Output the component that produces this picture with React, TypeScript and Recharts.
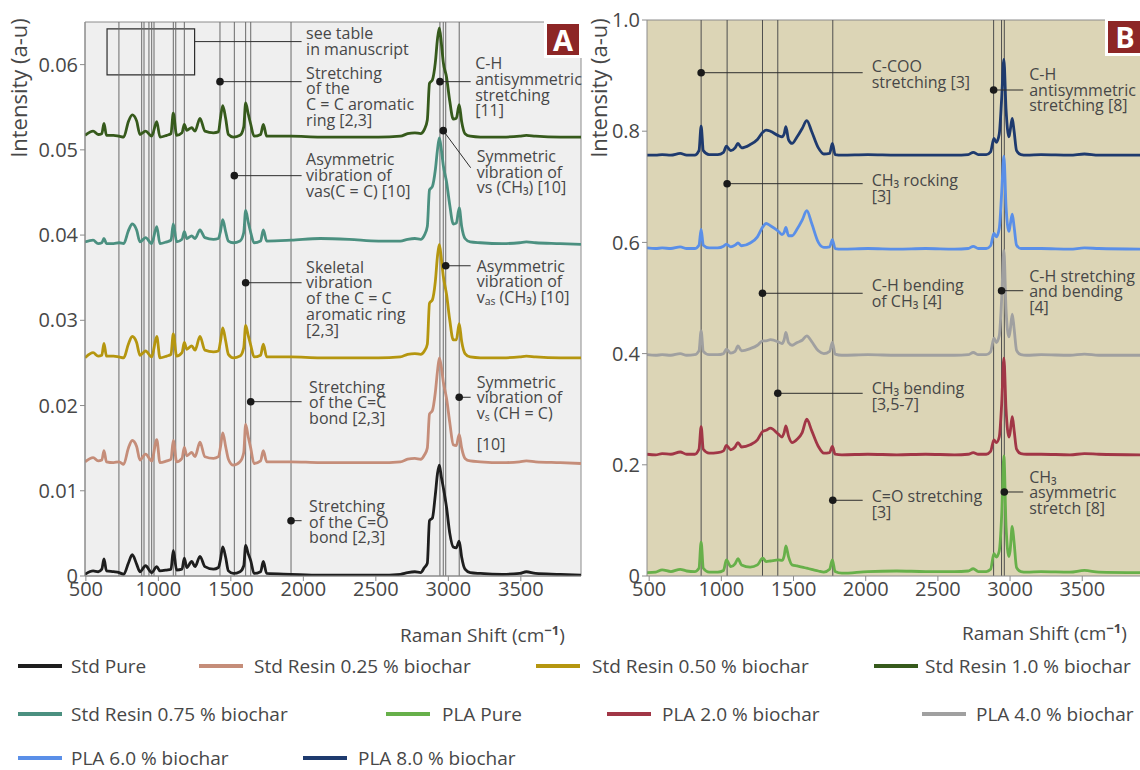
import React from 'react';
import {
  LineChart,
  Line,
  XAxis,
  YAxis,
  CartesianGrid,
  ReferenceLine,
  ReferenceDot,
  ReferenceArea,
} from 'recharts';

// ---------- Panel A: standard resin spectra (Raman shift, cm-1) ----------
const A_SHIFT = [
  494, 550, 585, 610, 625, 642, 691, 729, 761, 793, 820, 850, 873, 912, 954, 989, 1011, 1057, 1087, 1103,
  1126, 1163, 1179, 1196, 1230, 1253, 1287, 1321, 1380, 1414, 1429, 1444, 1464, 1483, 1517, 1563, 1589, 1602,
  1620, 1637, 1660, 1705, 1724, 1747, 1916, 2117, 2317, 2518, 2669, 2719, 2769, 2809, 2835, 2855, 2870, 2890,
  2910, 2925, 2938, 2952, 2965, 2988, 3010, 3034, 3055, 3075, 3092, 3115, 3151, 3221, 3372, 3492, 3538, 3602,
  3773, 3915,
];

const STD_PURE = [
  0.0002, 0.0006, 0.0005, 0.0008, 0.0020, 0.0006, 0.0005, 0.0004, 0.0002, 0.0015,
  0.0025, 0.0014, 0.0005, 0.0012, 0.0004, 0.0011, 0.0006, 0.0007, 0.0008, 0.0030,
  0.0007, 0.0008, 0.0021, 0.0010, 0.0017, 0.0011, 0.0023, 0.0011, 0.0008, 0.0010,
  0.0020, 0.0034, 0.0022, 0.0006, 0.0003, 0.0005, 0.0012, 0.0036, 0.0026, 0.0018,
  0.0003, 0.0005, 0.0017, 0.0003, 0.0002, 0.0001, 0.0001, 0.0001, 0.0002, 0.0004,
  0.0005, 0.0004, 0.0010, 0.0015, 0.0065, 0.0068, 0.0095, 0.0120, 0.0130, 0.0116,
  0.0104, 0.0080, 0.0050, 0.0034, 0.0033, 0.0041, 0.0022, 0.0008, 0.0004, 0.0003,
  0.0002, 0.0003, 0.0005, 0.0003, 0.0002, 0.0001,
];

const STD_RESIN_025 = [
  0.0134, 0.0139, 0.0135, 0.0136, 0.0147, 0.0134, 0.0133, 0.0134, 0.0131, 0.0150,
  0.0159, 0.0152, 0.0136, 0.0143, 0.0135, 0.0160, 0.0133, 0.0135, 0.0137, 0.0159,
  0.0134, 0.0138, 0.0151, 0.0141, 0.0145, 0.0140, 0.0157, 0.0140, 0.0138, 0.0140,
  0.0152, 0.0168, 0.0152, 0.0137, 0.0130, 0.0134, 0.0145, 0.0178, 0.0163, 0.0150,
  0.0132, 0.0135, 0.0147, 0.0134, 0.0134, 0.0133, 0.0133, 0.0133, 0.0134, 0.0137,
  0.0138, 0.0137, 0.0142, 0.0150, 0.0190, 0.0194, 0.0215, 0.0240, 0.0256, 0.0245,
  0.0228, 0.0208, 0.0180, 0.0154, 0.0153, 0.0166, 0.0150, 0.0138, 0.0135, 0.0134,
  0.0133, 0.0134, 0.0135, 0.0134, 0.0133, 0.0132,
];

const STD_RESIN_050 = [
  0.0256, 0.0262, 0.0258, 0.0259, 0.0273, 0.0258, 0.0258, 0.0257, 0.0256, 0.0272,
  0.0281, 0.0274, 0.0259, 0.0264, 0.0257, 0.0281, 0.0256, 0.0258, 0.0260, 0.0284,
  0.0258, 0.0262, 0.0274, 0.0266, 0.0270, 0.0265, 0.0281, 0.0265, 0.0263, 0.0264,
  0.0276, 0.0291, 0.0276, 0.0260, 0.0256, 0.0258, 0.0268, 0.0294, 0.0282, 0.0271,
  0.0257, 0.0259, 0.0272, 0.0257, 0.0257, 0.0256, 0.0256, 0.0256, 0.0257, 0.0260,
  0.0261, 0.0260, 0.0264, 0.0272, 0.0320, 0.0324, 0.0345, 0.0375, 0.0389, 0.0372,
  0.0352, 0.0330, 0.0300, 0.0277, 0.0277, 0.0296, 0.0275, 0.0261, 0.0257, 0.0256,
  0.0256, 0.0257, 0.0258, 0.0257, 0.0256, 0.0256,
];

const STD_RESIN_100 = [
  0.0517, 0.0522, 0.0518, 0.0519, 0.0531, 0.0517, 0.0517, 0.0516, 0.0515, 0.0533,
  0.0541, 0.0534, 0.0518, 0.0522, 0.0516, 0.0533, 0.0515, 0.0517, 0.0519, 0.0543,
  0.0517, 0.0520, 0.0530, 0.0523, 0.0526, 0.0522, 0.0537, 0.0522, 0.0520, 0.0521,
  0.0538, 0.0552, 0.0537, 0.0518, 0.0515, 0.0517, 0.0527, 0.0555, 0.0542, 0.0530,
  0.0516, 0.0518, 0.0530, 0.0516, 0.0516, 0.0515, 0.0515, 0.0515, 0.0516, 0.0519,
  0.0520, 0.0519, 0.0524, 0.0535, 0.0578, 0.0582, 0.0602, 0.0630, 0.0643, 0.0625,
  0.0603, 0.0585, 0.0557, 0.0536, 0.0537, 0.0553, 0.0533, 0.0519, 0.0516, 0.0515,
  0.0515, 0.0516, 0.0517, 0.0516, 0.0515, 0.0515,
];

const STD_RESIN_075 = [
  0.0392, 0.0394, 0.0390, 0.0391, 0.0396, 0.0390, 0.0390, 0.0391, 0.0390, 0.0405,
  0.0413, 0.0406, 0.0392, 0.0397, 0.0390, 0.0410, 0.0390, 0.0392, 0.0394, 0.0413,
  0.0392, 0.0395, 0.0404, 0.0396, 0.0399, 0.0396, 0.0406, 0.0397, 0.0395, 0.0396,
  0.0405, 0.0418, 0.0404, 0.0393, 0.0391, 0.0393, 0.0403, 0.0429, 0.0415, 0.0403,
  0.0391, 0.0393, 0.0406, 0.0393, 0.0394, 0.0396, 0.0395, 0.0393, 0.0393, 0.0395,
  0.0396, 0.0395, 0.0400, 0.0410, 0.0453, 0.0457, 0.0476, 0.0500, 0.0514, 0.0500,
  0.0482, 0.0462, 0.0435, 0.0413, 0.0414, 0.0432, 0.0410, 0.0396, 0.0392, 0.0391,
  0.0390, 0.0391, 0.0392, 0.0391, 0.0390, 0.0389,
];

// ---------- Panel B: PLA spectra ----------
const B_SHIFT = [
  485, 545, 590, 650, 715, 760, 815, 845, 860, 875, 915, 975, 1015, 1035, 1065, 1095, 1115, 1140, 1200, 1250,
  1287, 1310, 1340, 1395, 1420, 1435, 1447, 1465, 1490, 1525, 1560, 1592, 1625, 1672, 1710, 1750, 1769, 1788,
  1835, 2015, 2215, 2415, 2615, 2710, 2745, 2780, 2835, 2865, 2888, 2905, 2925, 2942, 2957, 2972, 2992, 3000,
  3015, 3028, 3045, 3075, 3115, 3215, 3415, 3515, 3615, 3900,
];

const PLA_PURE = [
  0.006, 0.007, 0.011, 0.008, 0.012, 0.009, 0.008, 0.014, 0.061, 0.014,
  0.007, 0.007, 0.010, 0.029, 0.017, 0.022, 0.031, 0.020, 0.016, 0.020,
  0.032, 0.026, 0.027, 0.029, 0.028, 0.036, 0.054, 0.035, 0.020, 0.018,
  0.016, 0.014, 0.012, 0.009, 0.007, 0.012, 0.029, 0.008, 0.005, 0.008,
  0.009, 0.008, 0.008, 0.009, 0.013, 0.008, 0.008, 0.012, 0.040, 0.034,
  0.045, 0.110, 0.216, 0.090, 0.035, 0.045, 0.089, 0.060, 0.015, 0.008,
  0.007, 0.008, 0.007, 0.010, 0.007, 0.006,
];

const PLA_2 = [
  0.219, 0.218, 0.220, 0.219, 0.223, 0.219, 0.219, 0.228, 0.2685, 0.228,
  0.221, 0.222, 0.225, 0.235, 0.227, 0.232, 0.240, 0.232, 0.236, 0.245,
  0.260, 0.262, 0.266, 0.255, 0.250, 0.258, 0.270, 0.252, 0.240, 0.246,
  0.258, 0.282, 0.262, 0.233, 0.221, 0.222, 0.233, 0.219, 0.218, 0.219,
  0.218, 0.219, 0.218, 0.219, 0.222, 0.219, 0.219, 0.224, 0.245, 0.240,
  0.250, 0.310, 0.392, 0.300, 0.250, 0.258, 0.2865, 0.262, 0.228, 0.220,
  0.219, 0.219, 0.218, 0.220, 0.219, 0.218,
];

const PLA_4 = [
  0.398, 0.397, 0.398, 0.397, 0.400, 0.397, 0.398, 0.405, 0.441, 0.404,
  0.398, 0.398, 0.400, 0.408, 0.401, 0.404, 0.414, 0.405, 0.409, 0.415,
  0.423, 0.423, 0.425, 0.421, 0.418, 0.425, 0.438, 0.420, 0.415, 0.420,
  0.424, 0.432, 0.422, 0.405, 0.400, 0.404, 0.420, 0.399, 0.397, 0.398,
  0.397, 0.397, 0.397, 0.398, 0.402, 0.398, 0.398, 0.403, 0.428, 0.420,
  0.432, 0.500, 0.586, 0.480, 0.430, 0.440, 0.471, 0.445, 0.406, 0.398,
  0.397, 0.398, 0.397, 0.399, 0.397, 0.397,
];

const PLA_6 = [
  0.590, 0.589, 0.590, 0.589, 0.592, 0.589, 0.589, 0.595, 0.6235, 0.595,
  0.590, 0.590, 0.593, 0.597, 0.592, 0.595, 0.599, 0.594, 0.599, 0.610,
  0.628, 0.634, 0.630, 0.620, 0.614, 0.618, 0.627, 0.612, 0.612, 0.624,
  0.640, 0.657, 0.635, 0.600, 0.591, 0.592, 0.605, 0.589, 0.588, 0.589,
  0.588, 0.589, 0.588, 0.589, 0.593, 0.589, 0.589, 0.594, 0.616, 0.610,
  0.625, 0.690, 0.755, 0.665, 0.620, 0.630, 0.651, 0.628, 0.595, 0.589,
  0.589, 0.589, 0.588, 0.590, 0.589, 0.588,
];

const PLA_8 = [
  0.757, 0.757, 0.758, 0.757, 0.760, 0.757, 0.757, 0.765, 0.809, 0.765,
  0.758, 0.758, 0.762, 0.773, 0.765, 0.770, 0.778, 0.770, 0.776, 0.785,
  0.798, 0.802, 0.800, 0.792, 0.790, 0.795, 0.808, 0.785, 0.778, 0.790,
  0.805, 0.819, 0.800, 0.770, 0.759, 0.760, 0.778, 0.758, 0.757, 0.758,
  0.757, 0.757, 0.757, 0.758, 0.762, 0.758, 0.758, 0.763, 0.787, 0.780,
  0.795, 0.860, 0.929, 0.840, 0.790, 0.800, 0.823, 0.800, 0.765, 0.758,
  0.757, 0.758, 0.757, 0.759, 0.757, 0.757,
];

// Axis ticks and band positions
const A_X_TICKS = [500, 1000, 1500, 2000, 2500, 3000, 3500];
const A_Y_TICKS = [0, 0.01, 0.02, 0.03, 0.04, 0.05, 0.06];
const B_X_TICKS = [500, 1000, 1500, 2000, 2500, 3000, 3500];
const B_Y_TICKS = [0, 0.2, 0.4, 0.6, 0.8, 1.0];
const A_BANDS = [728, 885, 901, 935, 954, 970, 1103, 1120, 1179, 1425, 1524, 1602, 1637, 1915, 2942, 2965, 2982, 3075];
const B_BANDS = [860, 1040, 1285, 1391, 1772, 2886, 2941, 2960];

type Series = { key: string; name: string; color: string; values: number[] };

const A_SERIES: Series[] = [
  { key: 'stdPure', name: 'Std Pure', color: '#1e1e1e', values: STD_PURE },
  { key: 'std025', name: 'Std Resin 0.25 % biochar', color: '#c58d79', values: STD_RESIN_025 },
  { key: 'std050', name: 'Std Resin 0.50 % biochar', color: '#b5960f', values: STD_RESIN_050 },
  { key: 'std100', name: 'Std Resin 1.0 % biochar', color: '#365a1c', values: STD_RESIN_100 },
  { key: 'std075', name: 'Std Resin 0.75 % biochar', color: '#4b9080', values: STD_RESIN_075 },
];

const B_SERIES: Series[] = [
  { key: 'plaPure', name: 'PLA Pure', color: '#67b04a', values: PLA_PURE },
  { key: 'pla2', name: 'PLA 2.0 % biochar', color: '#a13646', values: PLA_2 },
  { key: 'pla4', name: 'PLA 4.0 % biochar', color: '#a0a0a0', values: PLA_4 },
  { key: 'pla6', name: 'PLA 6.0 % biochar', color: '#5a8fe8', values: PLA_6 },
  { key: 'pla8', name: 'PLA 8.0 % biochar', color: '#1e3a6e', values: PLA_8 },
];

const aRows = A_SHIFT.map((shift, i) => {
  const row: Record<string, number> = { shift };
  A_SERIES.forEach((s) => (row[s.key] = s.values[i]));
  return row;
});
const bRows = B_SHIFT.map((shift, i) => {
  const row: Record<string, number> = { shift };
  B_SERIES.forEach((s) => (row[s.key] = s.values[i]));
  return row;
});

// ---------- Band assignments ----------
type Note = {
  x: number;
  y: number;
  ex: number;
  ey?: number;
  lines: string[];
  dy: number;
  gap: number;
  dot?: boolean;
};

const A_NOTES: Note[] = [
  { x: 1250, y: 0.0627, ex: 1988, lines: ['see table', 'in manuscript'], dy: -8.5, gap: 4.5, dot: false },
  { x: 1425, y: 0.058, ex: 1988, lines: ['Stretching', 'of the', 'C = C aromatic', 'ring [2,3]'], dy: -9, gap: 4.5 },
  { x: 1524, y: 0.04697, ex: 1988, lines: ['Asymmetric', 'vibration of', 'vas(C = C) [10]'], dy: -16.4, gap: 4.5 },
  { x: 1602, y: 0.03441, ex: 1988, lines: ['Skeletal', 'vibration', 'of the C = C', 'aromatic ring', '[2,3]'], dy: -16, gap: 4.5 },
  { x: 1637, y: 0.02045, ex: 1988, lines: ['Stretching', 'of the C=C', 'bond [2,3]'], dy: -15, gap: 7.5 },
  { x: 1915, y: 0.00649, ex: 1988, lines: ['Stretching', 'of the C=O', 'bond [2,3]'], dy: -14.7, gap: 7.5 },
  { x: 2942, y: 0.058, ex: 3154, lines: ['C-H', 'antisymmetric', 'stretching', '[11]'], dy: -18.4, gap: 4.5 },
  { x: 2965, y: 0.05225, ex: 3154, ey: 0.0479, lines: ['Symmetric', 'vibration of', 'vs (CH₃) [10]'], dy: -11.7, gap: 6 },
  { x: 2982, y: 0.0364, ex: 3154, lines: ['Asymmetric', 'vibration of', 'vₐₛ (CH₃) [10]'], dy: 0, gap: 6 },
  { x: 3075, y: 0.02097, ex: 3154, lines: ['Symmetric', 'vibration of', 'vₛ (CH = C)', '', '[10]'], dy: -15.6, gap: 6 },
];

const B_NOTES: Note[] = [
  { x: 860, y: 0.9052, ex: 1979, lines: ['C-COO', 'stretching [3]'], dy: -6.7, gap: 9 },
  { x: 1040, y: 0.7056, ex: 1979, lines: ['CH₃ rocking', '[3]'], dy: -3.7, gap: 9 },
  { x: 1285, y: 0.5085, ex: 1979, lines: ['C-H bending', 'of CH₃ [4]'], dy: -8.3, gap: 9 },
  { x: 1391, y: 0.3286, ex: 1979, lines: ['CH₃ bending', '[3,5-7]'], dy: -5, gap: 9 },
  { x: 1772, y: 0.1362, ex: 1979, lines: ['C=O stretching', '[3]'], dy: -4.3, gap: 9 },
  { x: 2886, y: 0.8741, ex: 3091, lines: ['C-H', 'antisymmetric', 'stretching [8]'], dy: -16, gap: 6 },
  { x: 2941, y: 0.5131, ex: 3091, lines: ['C-H stretching', 'and bending', '[4]'], dy: -15, gap: 6 },
  { x: 2960, y: 0.1511, ex: 3091, lines: ['CH₃', 'asymmetric', 'stretch [8]'], dy: -15.3, gap: 6 },
];

// ---------- Styling ----------
const FONT = '"Open Sans", "Noto Sans", "DejaVu Sans", sans-serif';
const INK = '#474747';
const LINE_H = 15.7;

const noteText = (n: Note) => (props: any) => {
  const { cx, cy } = props;
  if (cx == null || cy == null) return <g />;
  return (
    <g>
      {n.lines.map((ln, i) =>
        ln === '' ? null : (
          <text
            key={i}
            x={cx + n.gap}
            y={cy + n.dy + i * LINE_H}
            dominantBaseline="central"
            fontFamily={FONT}
            fontSize={16}
            fill={INK}
          >
            {ln}
          </text>
        ),
      )}
    </g>
  );
};

function noteElements(notes: Note[], prefix: string) {
  const out: React.ReactNode[] = [];
  notes.forEach((n, k) => {
    const ey = n.ey ?? n.y;
    out.push(
      <ReferenceLine
        key={`${prefix}-l${k}`}
        segment={[
          { x: n.x, y: n.y },
          { x: n.ex, y: ey },
        ]}
        stroke="#2e2e2e"
        strokeWidth={1}
        ifOverflow="visible"
      />,
    );
    if (n.dot !== false) {
      out.push(
        <ReferenceDot
          key={`${prefix}-d${k}`}
          x={n.x}
          y={n.y}
          r={3.8}
          fill="#1a1a1a"
          stroke="none"
          ifOverflow="visible"
        />,
      );
    }
    out.push(
      <ReferenceDot
        key={`${prefix}-t${k}`}
        x={n.ex}
        y={ey}
        r={0}
        ifOverflow="visible"
        shape={noteText(n)}
      />,
    );
  });
  return out;
}

const tickStyle = { fontSize: 20, fill: INK, fontFamily: FONT };
const axisStroke = '#8c8c8c';

const fmtA = (v: number) => (v === 0 ? '0' : v.toFixed(2));
const fmtB = (v: number) => (v === 0 ? '0' : v.toFixed(1));

const A_DOMAIN_X: [number, number] = [494, 3915];
const A_DOMAIN_Y: [number, number] = [0, 0.065];
const B_DOMAIN_X: [number, number] = [485, 3900];
const B_DOMAIN_Y: [number, number] = [0, 1];

function PanelA() {
  return (
    <LineChart width={582} height={612} data={aRows} margin={{ top: 22, right: 1, left: 0, bottom: 0 }}>
      <CartesianGrid fill="#efefef" horizontal={false} vertical={false} />
      <XAxis
        type="number"
        dataKey="shift"
        domain={A_DOMAIN_X}
        ticks={A_X_TICKS}
        allowDataOverflow
        height={36}
        tick={tickStyle}
        tickSize={5}
        tickMargin={1}
        axisLine={{ stroke: axisStroke }}
        tickLine={{ stroke: axisStroke }}
      />
      <YAxis
        type="number"
        domain={A_DOMAIN_Y}
        ticks={A_Y_TICKS}
        allowDataOverflow
        width={85}
        tick={tickStyle}
        tickFormatter={fmtA}
        tickSize={5}
        tickMargin={2}
        axisLine={{ stroke: axisStroke }}
        tickLine={{ stroke: axisStroke }}
      />
      <ReferenceArea
        x1={A_DOMAIN_X[0]}
        x2={A_DOMAIN_X[1]}
        y1={A_DOMAIN_Y[0]}
        y2={A_DOMAIN_Y[1]}
        fill="none"
        stroke={axisStroke}
        strokeWidth={1}
      />
      {A_BANDS.map((b) => (
        <ReferenceLine key={`ab${b}`} x={b} stroke="#6a6a6a" strokeWidth={1} />
      ))}
      <ReferenceArea x1={646} x2={1250} y1={0.0588} y2={0.0642} fill="none" stroke="#2e2e2e" strokeWidth={1.2} />
      {A_SERIES.map((s) => (
        <Line
          key={s.key}
          type="monotone"
          dataKey={s.key}
          name={s.name}
          stroke={s.color}
          strokeWidth={2.8}
          dot={false}
          activeDot={false}
          isAnimationActive={false}
        />
      ))}
      {noteElements(A_NOTES, 'a')}
    </LineChart>
  );
}

function PanelB() {
  return (
    <LineChart width={580} height={612} data={bRows} margin={{ top: 20, right: 0, left: 0, bottom: 0 }}>
      <CartesianGrid fill="#dcd5b6" horizontal={false} vertical={false} />
      <XAxis
        type="number"
        dataKey="shift"
        domain={B_DOMAIN_X}
        ticks={B_X_TICKS}
        allowDataOverflow
        height={36}
        tick={tickStyle}
        tickSize={5}
        tickMargin={1}
        axisLine={{ stroke: axisStroke }}
        tickLine={{ stroke: axisStroke }}
      />
      <YAxis
        type="number"
        domain={B_DOMAIN_Y}
        ticks={B_Y_TICKS}
        allowDataOverflow
        width={87}
        tick={tickStyle}
        tickFormatter={fmtB}
        tickSize={5}
        tickMargin={2}
        axisLine={{ stroke: axisStroke }}
        tickLine={{ stroke: axisStroke }}
      />
      <ReferenceLine y={B_DOMAIN_Y[1]} stroke={axisStroke} strokeWidth={1} />
      {B_BANDS.map((b) => (
        <ReferenceLine key={`bb${b}`} x={b} stroke="#4e4e4e" strokeWidth={1} />
      ))}
      {B_SERIES.map((s) => (
        <Line
          key={s.key}
          type="monotone"
          dataKey={s.key}
          name={s.name}
          stroke={s.color}
          strokeWidth={2.8}
          dot={false}
          activeDot={false}
          isAnimationActive={false}
        />
      ))}
      {noteElements(B_NOTES, 'b')}
    </LineChart>
  );
}

// Legend placement (swatch left edge, text left edge, row centre)
const LEGEND_ITEMS = [
  { s: A_SERIES[0], lx: 18, tx: 71, y: 666 },
  { s: A_SERIES[1], lx: 199, tx: 254, y: 666 },
  { s: A_SERIES[2], lx: 536, tx: 592, y: 666 },
  { s: A_SERIES[3], lx: 874, tx: 925, y: 666 },
  { s: A_SERIES[4], lx: 18, tx: 71, y: 714 },
  { s: B_SERIES[0], lx: 386, tx: 442, y: 714 },
  { s: B_SERIES[1], lx: 607, tx: 662, y: 714 },
  { s: B_SERIES[2], lx: 922, tx: 976, y: 714 },
  { s: B_SERIES[3], lx: 18, tx: 71, y: 758 },
  { s: B_SERIES[4], lx: 303, tx: 358, y: 758 },
];

const titleStyle: React.CSSProperties = {
  position: 'absolute',
  fontFamily: FONT,
  color: INK,
  whiteSpace: 'nowrap',
};

function Badge({ left, top, width, height, letter }: { left: number; top: number; width: number; height: number; letter: string }) {
  return (
    <div
      style={{
        position: 'absolute',
        left,
        top,
        width,
        height,
        background: '#8d2626',
        color: '#fff',
        fontFamily: FONT,
        fontWeight: 700,
        fontSize: 29,
        lineHeight: `${height}px`,
        textAlign: 'center',
        boxShadow: '0 0 0 3px #ffffff',
      }}
    >
      {letter}
    </div>
  );
}

export default function App() {
  return (
    <div
      style={{
        position: 'absolute',
        left: 0,
        top: 0,
        width: 1140,
        height: 770,
        background: '#ffffff',
        overflow: 'hidden',
      }}
    >
      <div style={{ position: 'absolute', left: 0, top: 0 }}>
        <PanelA />
      </div>
      <div style={{ position: 'absolute', left: 560, top: 0 }}>
        <PanelB />
      </div>

      <Badge left={547} top={24} width={32} height={31} letter="A" />
      <Badge left={1108} top={21} width={34} height={32} letter="B" />

      {/* axis titles */}
      <div
        style={{
          ...titleStyle,
          fontSize: 22,
          left: 18,
          top: 88,
          transform: 'translate(-50%, -50%) rotate(-90deg)',
        }}
      >
        Intensity (a-u)
      </div>
      <div
        style={{
          ...titleStyle,
          fontSize: 22,
          left: 598,
          top: 88,
          transform: 'translate(-50%, -50%) rotate(-90deg)',
        }}
      >
        Intensity (a-u)
      </div>
      <div style={{ ...titleStyle, fontSize: 19, left: 400, top: 621 }}>
        Raman Shift (cm<sup style={{ fontSize: 13, fontWeight: 700 }}>−1</sup>)
      </div>
      <div style={{ ...titleStyle, fontSize: 19, left: 962, top: 619 }}>
        Raman Shift (cm<sup style={{ fontSize: 13, fontWeight: 700 }}>−1</sup>)
      </div>

      {/* legend */}
      {LEGEND_ITEMS.map(({ s, lx, tx, y }) => (
        <React.Fragment key={s.key}>
          <div
            style={{
              position: 'absolute',
              left: lx,
              top: y - 2,
              width: 44,
              height: 4,
              background: s.color,
            }}
          />
          <div
            style={{
              ...titleStyle,
              left: tx,
              top: y - 11,
              fontSize: 19,
              lineHeight: '22px',
            }}
          >
            {s.name}
          </div>
        </React.Fragment>
      ))}
    </div>
  );
}
